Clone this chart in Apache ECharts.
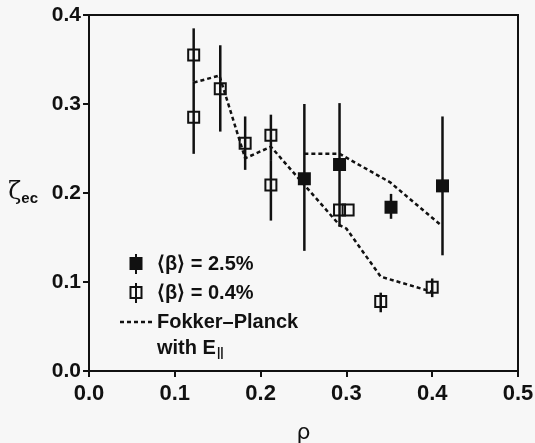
<!DOCTYPE html>
<html>
<head>
<meta charset="utf-8">
<script src="https://cdn.jsdelivr.net/npm/echarts@6/dist/echarts.min.js"></script>
<style>
  html, body { margin: 0; padding: 0; background: #f7f7f7; }
  #chart { width: 535px; height: 443px; }
</style>
</head>
<body>
<div id="chart"></div>
<script>
// data
var xTicks = [0.0, 0.1, 0.2, 0.3, 0.4, 0.5]
var yTicks = [0.0, 0.1, 0.2, 0.3, 0.4]

// <beta> = 2.5% (filled squares)
var rho25 = [0.251, 0.292, 0.352, 0.412]
var zeta25 = [0.216, 0.232, 0.184, 0.208]
var lo25 = [0.135, 0.162, 0.171, 0.130]
var hi25 = [0.300, 0.301, 0.199, 0.286]

// <beta> = 0.4% (open squares)
var rho04 = [0.122, 0.122, 0.153, 0.182, 0.212, 0.212, 0.292, 0.302, 0.340, 0.400]
var zeta04 = [0.355, 0.285, 0.317, 0.256, 0.265, 0.209, 0.181, 0.181, 0.078, 0.094]
var lo04 = [0.325, 0.244, 0.269, 0.226, 0.237, 0.169, 0.181, 0.181, 0.066, 0.083]
var hi04 = [0.385, 0.325, 0.366, 0.286, 0.288, 0.237, 0.181, 0.181, 0.088, 0.104]

// Fokker-Planck with E|| (dashed)
var rhoFP04 = [0.122, 0.152, 0.182, 0.212, 0.251, 0.292, 0.300, 0.340, 0.400]
var zetaFP04 = [0.324, 0.332, 0.239, 0.252, 0.209, 0.164, 0.160, 0.106, 0.089]
var rhoFP25 = [0.251, 0.292, 0.351, 0.410]
var zetaFP25 = [0.244, 0.244, 0.212, 0.164]

var FONT = "'Liberation Sans', Arial, sans-serif"
var LEG25 = '\u27E8\u03B2\u27E9 = 2.5%'
var LEG04 = '\u27E8\u03B2\u27E9 = 0.4%'
var LEGFP = 'Fokker\u2013Planck'

function zip(a, b) {
    var out = []
    for (let i = 0; i < a.length; i++) out.push([a[i], b[i]])
    return out
}
function bars(x, lo, hi) {
    var out = []
    for (let i = 0; i < x.length; i++) out.push([x[i], lo[i], hi[i]])
    return out
}
// vertical error bar
function renderBar(params, api) {
    var top = api.coord([api.value(0), api.value(2)])
    var bot = api.coord([api.value(0), api.value(1)])
    return {
        type: 'line',
        shape: { x1: top[0], y1: top[1], x2: bot[0], y2: bot[1] },
        style: { stroke: '#111', lineWidth: 2.5 }
    }
}

var chart = echarts.init(document.getElementById('chart'), null, { renderer: 'canvas' })

var option = {
    backgroundColor: '#f7f7f7',
    animation: false,
    grid: {
        left: 89, right: 17, top: 15, bottom: 72,
        outerBoundsMode: 'none', containLabel: false,
        show: true, borderColor: '#111', borderWidth: 2, backgroundColor: 'transparent'
    },
    legend: {
        orient: 'vertical',
        left: 120, top: 254,
        padding: 0,
        itemWidth: 32, itemHeight: 20, itemGap: 9,
        textStyle: { fontFamily: FONT, fontWeight: 'bold', fontSize: 20, color: '#111' },
        data: [
            { name: LEG25, icon: 'path://M0,3H13V16H0Z M5.5,0H7.5V20H5.5Z',
              itemStyle: { color: '#111', borderWidth: 0 } },
            { name: LEG04, icon: 'path://M0,3H13V16H0Z M2,5V14H11V5Z M5.5,0H7.5V20H5.5Z',
              itemStyle: { color: '#111', borderWidth: 0 } },
            { name: LEGFP,
              icon: 'path://M0,0H4V2.5H0Z M7,0H11V2.5H7Z M14,0H18V2.5H14Z M21,0H25V2.5H21Z M28,0H32V2.5H28Z',
              itemStyle: { color: '#111', borderWidth: 0 } }
        ]
    },
    graphic: [{
        type: 'text', left: 157, top: 338,
        style: {
            text: '{a|with E}{b|||}',
            rich: {
                a: { fontFamily: FONT, fontWeight: 'bold', fontSize: 20, fill: '#111' },
                b: { fontFamily: FONT, fontWeight: 'bold', fontSize: 12, fill: '#111', padding: [10, 0, 0, 1] }
            }
        }
    }],
    xAxis: {
        type: 'value', min: 0, max: 0.5, interval: 0.1,
        name: '\u03C1', nameLocation: 'middle', nameGap: 51,
        nameTextStyle: { fontFamily: "'DejaVu Sans', sans-serif", fontSize: 22, color: '#111' },
        axisLine: { lineStyle: { color: '#111', width: 2 } },
        axisTick: { length: 6, lineStyle: { color: '#111', width: 2 } },
        axisLabel: {
            margin: 12, fontFamily: FONT, fontWeight: 'bold', fontSize: 22, color: '#111',
            formatter: function (v) { return v.toFixed(1) }
        },
        splitLine: { show: false }
    },
    yAxis: {
        type: 'value', min: 0, max: 0.4, interval: 0.1,
        name: '{z|\u03B6}{s|ec}', nameLocation: 'middle', nameGap: 51, nameRotate: 0,
        nameTextStyle: {
            rich: {
                z: { fontFamily: "'DejaVu Serif', serif", fontSize: 24, color: '#111' },
                s: { fontFamily: FONT, fontWeight: 'bold', fontSize: 15, color: '#111', padding: [12, 0, 0, 0] }
            }
        },
        axisLine: { lineStyle: { color: '#111', width: 2 } },
        axisTick: { length: 6, lineStyle: { color: '#111', width: 2 } },
        axisLabel: {
            margin: 8, fontFamily: FONT, fontWeight: 'bold', fontSize: 21, color: '#111',
            formatter: function (v) { return v.toFixed(1) }
        },
        splitLine: { show: false }
    },
    series: [
        {
            name: LEGFP, type: 'line', data: zip(rhoFP04, zetaFP04),
            symbol: 'none', itemStyle: { color: '#111' },
            lineStyle: { color: '#111', width: 2.5, type: [4, 3] }, z: 1
        },
        {
            name: LEGFP, type: 'line', data: zip(rhoFP25, zetaFP25),
            symbol: 'none', itemStyle: { color: '#111' },
            lineStyle: { color: '#111', width: 2.5, type: [4, 3] }, z: 1
        },
        {
            name: LEG04, type: 'custom', renderItem: renderBar,
            data: bars(rho04, lo04, hi04), z: 2
        },
        {
            name: LEG25, type: 'custom', renderItem: renderBar,
            data: bars(rho25, lo25, hi25), z: 2
        },
        {
            name: LEG04, type: 'scatter', data: zip(rho04, zeta04),
            symbol: 'rect', symbolSize: 11,
            itemStyle: { color: 'transparent', borderColor: '#111', borderWidth: 2, opacity: 1 }, z: 3
        },
        {
            name: LEG25, type: 'scatter', data: zip(rho25, zeta25),
            symbol: 'rect', symbolSize: 13,
            itemStyle: { color: '#111', opacity: 1 }, z: 4
        }
    ]
}

chart.setOption(option)
</script>
</body>
</html>
